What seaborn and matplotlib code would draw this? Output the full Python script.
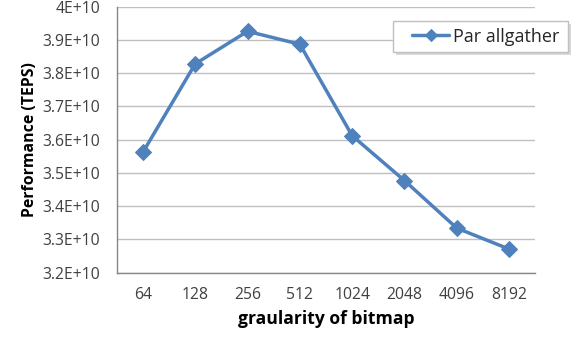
import matplotlib
matplotlib.use("Agg")
import matplotlib.pyplot as plt
from matplotlib.patches import Rectangle
import seaborn as sns
import pandas as pd
import numpy as np

granularity = ["64", "128", "256", "512", "1024", "2048", "4096", "8192"]
performance = [3.562e10, 3.828e10, 3.926e10, 3.887e10, 3.612e10, 3.477e10, 3.334e10, 3.271e10]
series_name = "Par allgather"
y_ticks = [3.2e10, 3.3e10, 3.4e10, 3.5e10, 3.6e10, 3.7e10, 3.8e10, 3.9e10, 4.0e10]
y_tick_labels = ["3.2E+10", "3.3E+10", "3.4E+10", "3.5E+10", "3.6E+10", "3.7E+10", "3.8E+10", "3.9E+10", "4E+10"]

sns.set_style("white")
plt.rcParams["font.family"] = ["Open Sans", "DejaVu Sans"]

df = pd.DataFrame({"granularity": granularity, "performance": performance, "series": series_name})

W, H = 574, 339
fig = plt.figure(figsize=(W / 100, H / 100), dpi=100)
ax = fig.add_axes([116.7 / W, 1 - 272.7 / H, (535.3 - 116.7) / W, (272.7 - 6.7) / H])

color = "#4F81BD"
grid_color = "#BFBFBF"
axis_color = "#868686"
text_color = "#404040"

for y in y_ticks:
    ax.axhline(y, color=grid_color, lw=1.0, zorder=0)

sns.lineplot(data=df, x="granularity", y="performance", hue="series", palette=[color],
             marker="D", markersize=8, linewidth=2.5, markeredgecolor=color,
             sort=False, ax=ax, zorder=3)

ax.set_xlim(-0.5, len(granularity) - 0.5)
ax.set_ylim(3.2e10, 4.0e10)
ax.set_yticks(y_ticks)
ax.set_yticklabels(y_tick_labels, fontsize=11.3, color=text_color)
ax.set_xticks(range(len(granularity)))
ax.set_xticklabels(granularity, fontsize=11.3, color=text_color)
ax.set_xticks(np.arange(-0.5, len(granularity)), minor=True)
ax.tick_params(axis="x", which="major", length=0, pad=10)
ax.tick_params(axis="x", which="minor", length=5, color=axis_color, width=1)
ax.tick_params(axis="y", which="major", length=5, color=axis_color, width=1, pad=7)

for side in ["top", "right"]:
    ax.spines[side].set_visible(False)
for side in ["left", "bottom"]:
    ax.spines[side].set_color(axis_color)
    ax.spines[side].set_linewidth(1)

ax.set_xlabel("graularity of bitmap", fontsize=12.6, fontweight="bold", labelpad=5, color="black")
ax.set_ylabel("Performance (TEPS)", fontsize=11.4, fontweight="bold", labelpad=3, color="black")

# legend box with shadow
bx0, by0, bx1, by1 = 393, 21, 568, 52
shadow = Rectangle(((bx0 + 3) / W, 1 - (by1 + 3) / H), (bx1 - bx0) / W, (by1 - by0) / H,
                   transform=fig.transFigure, facecolor="#D9D9D9", edgecolor="none", zorder=4)
box = Rectangle((bx0 / W, 1 - by1 / H), (bx1 - bx0) / W, (by1 - by0) / H,
                transform=fig.transFigure, facecolor="white", edgecolor="#BFBFBF",
                linewidth=1, zorder=5)
fig.patches.extend([shadow, box])

handles, labels = ax.get_legend_handles_labels()
ax.get_legend().remove()
leg = fig.legend(handles, labels, loc="center left", bbox_to_anchor=(412 / W, 1 - 36.5 / H),
                 bbox_transform=fig.transFigure, fontsize=13, frameon=False,
                 borderpad=0, borderaxespad=0, handlelength=2.05, handletextpad=0.2)
leg.set_zorder(10)
for line in leg.get_lines():
    line.set_markersize(6)

fig.savefig("out.png", dpi=100)
